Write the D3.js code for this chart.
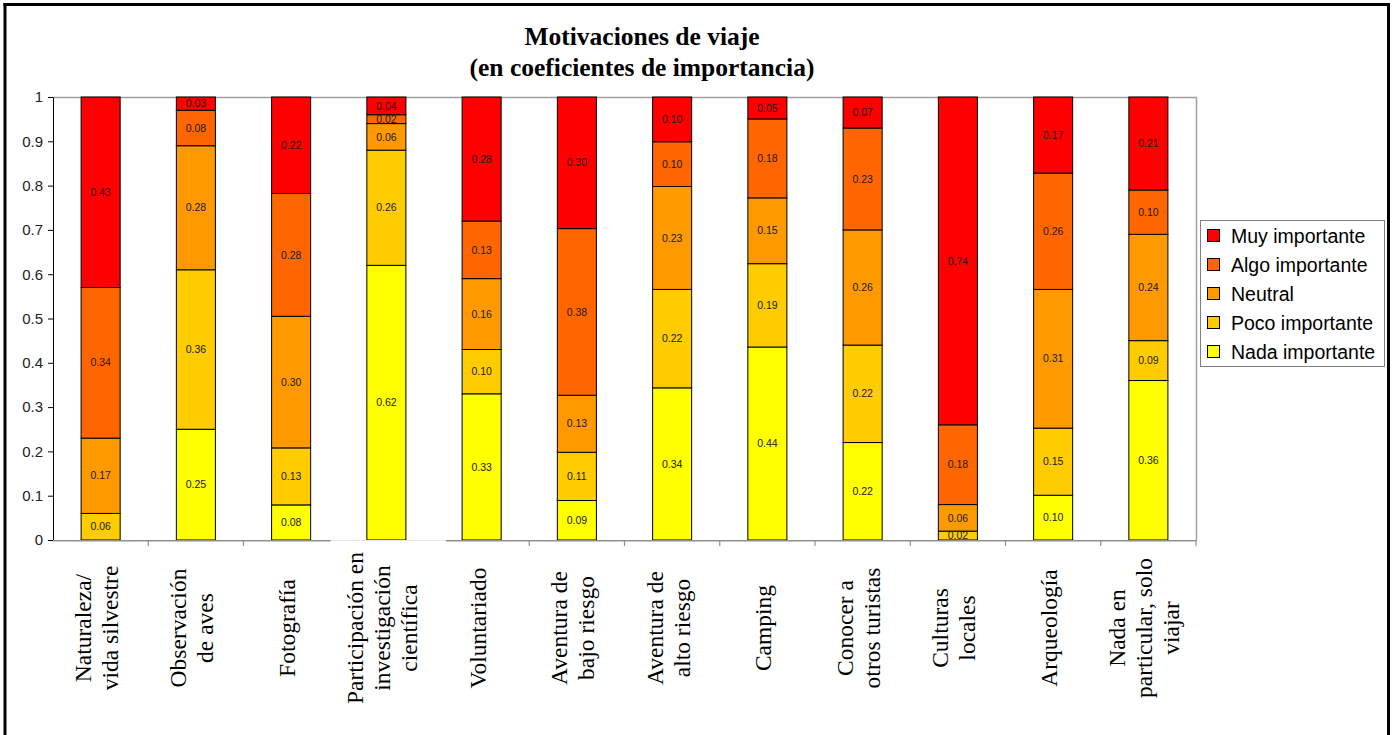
<!DOCTYPE html>
<html><head><meta charset="utf-8">
<script src="https://cdn.jsdelivr.net/npm/d3@7"></script>
<style>body{margin:0;background:#fff} svg{display:block}</style>
</head><body><svg id="c" width="1397" height="735"></svg>
<script>
// ---- data ----
const titleLines = ["Motivaciones de viaje", "(en coeficientes de importancia)"];
const categories = [
  "Naturaleza/\nvida silvestre",
  "Observación\nde aves",
  "Fotografía",
  "Participación en\ninvestigación\ncientífica",
  "Voluntariado",
  "Aventura de\nbajo riesgo",
  "Aventura de\nalto riesgo",
  "Camping",
  "Conocer a\notros turistas",
  "Culturas\nlocales",
  "Arqueología",
  "Nada en\nparticular, solo\nviajar"
];
const seriesNames = ["Nada importante", "Poco importante", "Neutral", "Algo importante", "Muy importante"];
const nada    = [0.00, 0.25, 0.08, 0.62, 0.33, 0.09, 0.34, 0.44, 0.22, 0.00, 0.10, 0.36];
const poco    = [0.06, 0.36, 0.13, 0.26, 0.10, 0.11, 0.22, 0.19, 0.22, 0.02, 0.15, 0.09];
const neutral = [0.17, 0.28, 0.30, 0.06, 0.16, 0.13, 0.23, 0.15, 0.26, 0.06, 0.31, 0.24];
const algo    = [0.34, 0.08, 0.28, 0.02, 0.13, 0.38, 0.10, 0.18, 0.23, 0.18, 0.26, 0.10];
const muy     = [0.43, 0.03, 0.22, 0.04, 0.28, 0.30, 0.10, 0.05, 0.07, 0.74, 0.17, 0.21];
const yTicks  = [0, 0.1, 0.2, 0.3, 0.4, 0.5, 0.6, 0.7, 0.8, 0.9, 1];

// ---- chart ----
const seriesValues = [nada, poco, neutral, algo, muy];
const colors = ["#FFFF00", "#FFCC00", "#FF9900", "#FF6600", "#FF0000"];
const svg = d3.select("#c");
const plot = {l: 53, r: 1196, t: 97, b: 540};

const x = d3.scaleBand().domain(d3.range(categories.length))
  .range([plot.l, plot.r]).paddingInner(0.59).paddingOuter(0.295);
const y = d3.scaleLinear().domain([0, 1]).range([plot.b, plot.t]);

const rows = categories.map((c, i) => {
  const r = {i};
  seriesNames.forEach((s, k) => r[s] = seriesValues[k][i]);
  return r;
});
const stacked = d3.stack().keys(seriesNames).offset(d3.stackOffsetExpand)(rows);

// outer frame
const frame = svg.append("g").attr("stroke", "#000").attr("stroke-width", 3);
frame.append("line").attr("x1", 5).attr("x2", 5).attr("y1", 3).attr("y2", 735);
frame.append("line").attr("x1", 3.5).attr("x2", 1390).attr("y1", 4.5).attr("y2", 4.5);
frame.append("line").attr("x1", 1388.5).attr("x2", 1388.5).attr("y1", 3).attr("y2", 735);

// title
svg.append("g").selectAll("text").data(titleLines).join("text")
  .attr("x", 642).attr("y", (d, i) => 45 + i * 31)
  .attr("text-anchor", "middle")
  .attr("font-family", "'Liberation Serif','Times New Roman',serif")
  .attr("font-weight", "bold").attr("font-size", 25.5).attr("fill", "#000")
  .text(d => d);

// plot frame (top & right, gray)
svg.append("path")
  .attr("d", `M${plot.l},${plot.t + 0.5}H${plot.r + 0.5}V${plot.b}`)
  .attr("fill", "none").attr("stroke", "#A0A0A0").attr("stroke-width", 1.5);

// bars
const layer = svg.append("g").selectAll("g").data(stacked).join("g")
  .attr("fill", (d, k) => colors[k]);
layer.selectAll("rect").data(d => d).join("rect")
  .attr("x", d => x(d.data.i))
  .attr("width", x.bandwidth())
  .attr("y", d => y(d[1]))
  .attr("height", d => y(d[0]) - y(d[1]))
  .attr("stroke", "#000").attr("stroke-width", 1);

// value labels
const fmt = d3.format(".2f");
svg.append("g").selectAll("g").data(stacked).join("g")
  .selectAll("text").data((d, k) => d.map(p => ({p, v: seriesValues[k][p.data.i]})).filter(o => o.v > 0))
  .join("text")
  .attr("x", o => x(o.p.data.i) + x.bandwidth() / 2)
  .attr("y", o => (y(o.p[0]) + y(o.p[1])) / 2)
  .attr("dy", "0.35em")
  .attr("text-anchor", "middle")
  .attr("font-family", "'Liberation Sans',Arial,sans-serif")
  .attr("font-size", 10.5).attr("fill", "#1a1a1a")
  .text(o => fmt(o.v));

// y axis
const yAxis = d3.axisLeft(y).tickValues(yTicks).tickFormat(d3.format(".1~f"))
  .tickSize(5).tickSizeOuter(0).tickPadding(5);
const ya = svg.append("g").attr("transform", `translate(${plot.l},0)`).call(yAxis);
ya.select(".domain").attr("stroke", "#000");
ya.selectAll(".tick line").attr("stroke", "#000");
ya.selectAll("text").attr("font-family", "'Liberation Sans',Arial,sans-serif")
  .attr("font-size", 15).attr("fill", "#222");

// x axis (category boundaries)
const step = x.step();
const bounds = d3.range(categories.length + 1).map(k => plot.l + k * step);
const xa = svg.append("g").attr("stroke", "#909090");
xa.append("line").attr("x1", plot.l).attr("x2", plot.r + 0.5)
  .attr("y1", plot.b + 0.75).attr("y2", plot.b + 0.75).attr("stroke-width", 1.5);
xa.selectAll("line.t").data(bounds.slice(1)).join("line").attr("class", "t")
  .attr("x1", d => d).attr("x2", d => d)
  .attr("y1", plot.b).attr("y2", plot.b + 6).attr("stroke-width", 1.2);
// gap in the axis (as in the reference image)
svg.append("rect").attr("x", bounds[3] - 8).attr("y", plot.b + 0.2)
  .attr("width", bounds[4] - bounds[3] + 20).attr("height", 8).attr("fill", "#fff");

// category labels (rotated)
const lineGap = 27;
const cat = svg.append("g").selectAll("g").data(categories).join("g")
  .attr("transform", (d, i) => `translate(${x(i) + x.bandwidth() / 2},628) rotate(-90)`);
cat.each(function(d) {
  const lines = d.split("\n");
  const n = lines.length;
  d3.select(this).selectAll("text").data(lines).join("text")
    .attr("x", 0)
    .attr("y", (l, j) => 4 + (j - (n - 1) / 2) * lineGap)
    .attr("text-anchor", "middle")
    .attr("font-family", "'Liberation Serif','Times New Roman',serif")
    .attr("font-size", 23.5).attr("fill", "#000")
    .text(l => l);
});

// legend
const lg = svg.append("g");
lg.append("rect").attr("x", 1200.5).attr("y", 220.5).attr("width", 184).attr("height", 146)
  .attr("fill", "#fff").attr("stroke", "#808080");
const order = d3.range(seriesNames.length).reverse();
const items = lg.selectAll("g").data(order).join("g")
  .attr("transform", (k, j) => `translate(1207,${236 + j * 29})`);
items.append("rect").attr("x", 0.5).attr("y", -6.5).attr("width", 12).attr("height", 12)
  .attr("fill", k => colors[k]).attr("stroke", "#000");
items.append("text").attr("x", 24).attr("y", 0).attr("dy", "0.35em")
  .attr("font-family", "'Liberation Sans',Arial,sans-serif").attr("font-size", 19.5).attr("fill", "#000")
  .text(k => seriesNames[k]);
</script>
</body></html>
